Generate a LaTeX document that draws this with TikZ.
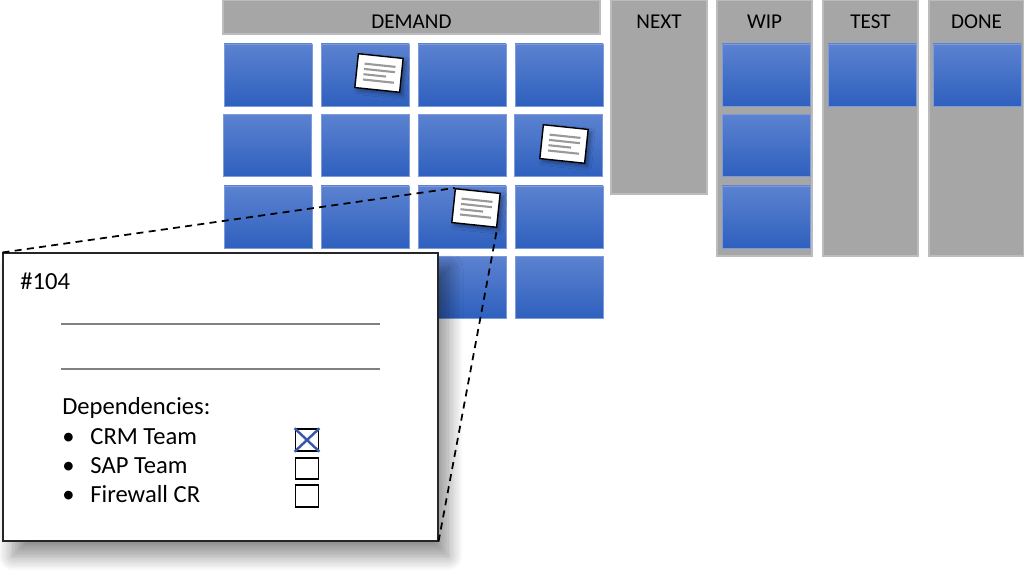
\documentclass[tikz,border=0pt]{standalone}
\usepackage{fontspec}
\setmainfont{Carlito}
\usetikzlibrary{calc, positioning, shadows.blur}
\definecolor{lanegray}{RGB}{166,166,166}
\definecolor{cardtop}{RGB}{92,130,208}
\definecolor{cardbottom}{RGB}{46,96,190}
\definecolor{cardedge}{RGB}{125,155,220}
\definecolor{tickblue}{RGB}{58,88,168}

% grey text lines on a small ticket
\newcommand{\notelines}[1]{%
  \foreach \v/\e in {0.28/0.84, 0.43/0.84, 0.58/0.66, 0.73/0.84}
    \draw[noteline] ($($(#1.north west)!\v!(#1.south west)$)!0.17!($(#1.north east)!\v!(#1.south east)$)$)
      -- ($($(#1.north west)!\v!(#1.south west)$)!\e!($(#1.north east)!\v!(#1.south east)$)$);}

\begin{document}
\begin{tikzpicture}[
    x=0.2mm, y=-0.2mm,
    lane/.style={rectangle, inner sep=0, fill=lanegray, draw=lanegray!75!white, line width=0.6pt},
    hdr/.style={font=\fontsize{12}{14}\selectfont, anchor=base, inner sep=0},
    card/.style={rectangle, inner sep=0, minimum width=17.6mm, minimum height=12.4mm,
                 top color=cardtop, bottom color=cardbottom, draw=cardedge, line width=0.5pt},
    note/.style={rectangle, inner sep=0, fill=white, draw=black, line width=0.8pt,
                 minimum width=9mm, minimum height=6.8mm, rotate=-6,
                 blur shadow={shadow xshift=0.6mm, shadow yshift=-0.6mm, shadow blur radius=0.8mm, shadow opacity=40}},
    noteline/.style={draw=gray!80, line width=1.2pt},
    zoombox/.style={rectangle, inner sep=0, fill=white, draw=black!85, line width=0.6pt,
                    minimum width=87mm, minimum height=57.6mm,
                    blur shadow={shadow xshift=2mm, shadow yshift=-3mm, shadow blur radius=3mm,
                                 shadow blur steps=12, shadow opacity=45}},
    txt/.style={font=\fontsize{14}{17}\selectfont, anchor=base west, inner sep=0},
    rulegray/.style={draw=gray, line width=1pt},
    tickbox/.style={rectangle, inner sep=0, draw=black, line width=1.1pt, minimum width=4.6mm, minimum height=4.3mm},
    zoomline/.style={line width=1pt, dash pattern=on 4pt off 3pt}
]
\useasboundingbox (0,0) rectangle (1024,580);

% Lanes
\node[lane, minimum width=75.4mm, minimum height=6.8mm] (demand) at (411.5,17) {};
\node[lane, minimum width=19.2mm, minimum height=38.8mm] (next) at (659,97) {};
\node[lane, minimum width=19mm, minimum height=51.2mm] (wip) at (764.5,128) {};
\node[lane, minimum width=19mm, minimum height=51.2mm] (test) at (870.5,128) {};
\node[lane, minimum width=19mm, minimum height=51.2mm] (done) at (976.5,128) {};
\node[hdr] (demandlbl) at (411.5,29) {DEMAND};
\node[hdr] (nextlbl) at (659,29) {NEXT};
\node[hdr] (wiplbl) at (764.5,29) {WIP};
\node[hdr] (testlbl) at (870.5,29) {TEST};
\node[hdr] (donelbl) at (976.5,29) {DONE};

% Demand backlog (4 x 4)
\node[card] (d11) at (268,75) {};
\node[card] (d12) at (365,75) {};
\node[card] (d13) at (462,75) {};
\node[card] (d14) at (559,75) {};
\node[card] (d21) at (267,145.5) {};
\node[card] (d22) at (365,145.5) {};
\node[card] (d23) at (462,145.5) {};
\node[card] (d24) at (558.5,145.5) {};
\node[card] (d31) at (268,217) {};
\node[card] (d32) at (365,217) {};
\node[card] (d33) at (462,217) {};
\node[card] (d34) at (559,217) {};
\node[card] (d41) at (268,287.5) {};
\node[card] (d42) at (365,287.5) {};
\node[card] (d43) at (462,287.5) {};
\node[card] (d44) at (559,287.5) {};

% Cards in flow
\node[card] (w1) at (766,75) {};
\node[card] (w2) at (766,145.5) {};
\node[card] (w3) at (766,217) {};
\node[card] (t1) at (872,75) {};
\node[card] (f1) at (977,75) {};

% Tickets
\node[note] (note1) at (379,73) {};
\node[note] (note2) at (564,144) {};
\node[note] (note3) at (476,208) {};
\notelines{note1}
\notelines{note2}
\notelines{note3}

% Zoomed ticket
\node[zoombox] (ticket) at (220.5,397) {};
\draw[zoomline] (ticket.north west) -- (note3.north west);
\draw[zoomline] (ticket.south east) -- (note3.south east);

\node[txt] (id) at (20,290) {\#104};
\draw[rulegray] (61,324) coordinate (r1a) -- (380,324) coordinate (r1b);
\draw[rulegray] (61,369) coordinate (r2a) -- (380,369) coordinate (r2b);
\node[txt] (deps) at (62,415) {Dependencies:};
\node[txt] (crm) at (62,445) {\textbullet\hspace{9pt}CRM Team};
\node[txt] (sap) at (62,474) {\textbullet\hspace{9pt}SAP Team};
\node[txt] (fw) at (62,503) {\textbullet\hspace{9pt}Firewall CR};
\node[tickbox] (tcrm) at (307,440) {};
\node[tickbox] (tsap) at (307,468.5) {};
\node[tickbox] (tfw) at (307,496) {};
\draw[tickblue, line width=1.4pt] (tcrm.north west) -- (tcrm.south east)
  (tcrm.north east) -- (tcrm.south west);
\end{tikzpicture}
\end{document}
